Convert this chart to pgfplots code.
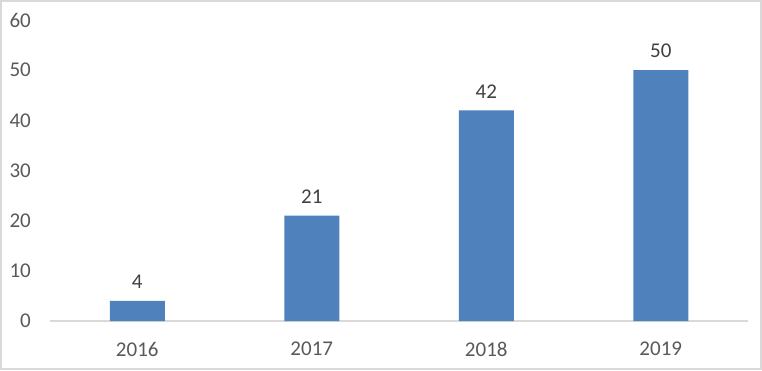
\documentclass[border=0pt]{standalone}
\usepackage{pgfplots}
\pgfplotsset{compat=1.18}
\usepackage{fontspec}
\setmainfont{Carlito}
\definecolor{barblue}{HTML}{4F81BD}
\definecolor{ticktext}{HTML}{595959}
\definecolor{labeltext}{HTML}{404040}
\definecolor{framegray}{HTML}{D9D9D9}
\begin{document}
\begin{tikzpicture}[x=1pt,y=1pt]
\fontsize{21}{25}\selectfont
\useasboundingbox (0,0) rectangle (762,370);
\draw[framegray, line width=1.2pt] (1,1) rectangle (761,369);
\begin{axis}[
  at={(50pt,49pt)}, anchor=south west,
  scale only axis,
  width=698pt, height=301pt,
  xmin=-0.5, xmax=3.5,
  ymin=0, ymax=60,
  ytick={0,10,20,30,40,50,60},
  xtick={0,1,2,3},
  xticklabels={2016,2017,2018,2019},
  separate axis lines,
  axis x line*=bottom,
  axis y line*=left,
  x axis line style={framegray, line width=1.2pt, -},
  y axis line style={draw=none, -},
  major tick length=0pt,
  tick style={draw=none},
  /pgf/number format/assume math mode=true,
  ticklabel style={font=\fontsize{21}{25}\selectfont, text=ticktext, inner sep=0pt},
  xticklabel style={anchor=north, yshift=-21pt},
  yticklabel style={anchor=east, xshift=-19pt},
  clip=false,
]
\addplot[ybar, bar width=55pt, fill=barblue, draw=none,
  nodes near coords,
  nodes near coords style={font=\fontsize{21}{25}\selectfont, text=labeltext, anchor=south, inner sep=0pt, yshift=12pt},
] coordinates {(0,4) (1,21) (2,42) (3,50)};
\end{axis}
\end{tikzpicture}
\end{document}
